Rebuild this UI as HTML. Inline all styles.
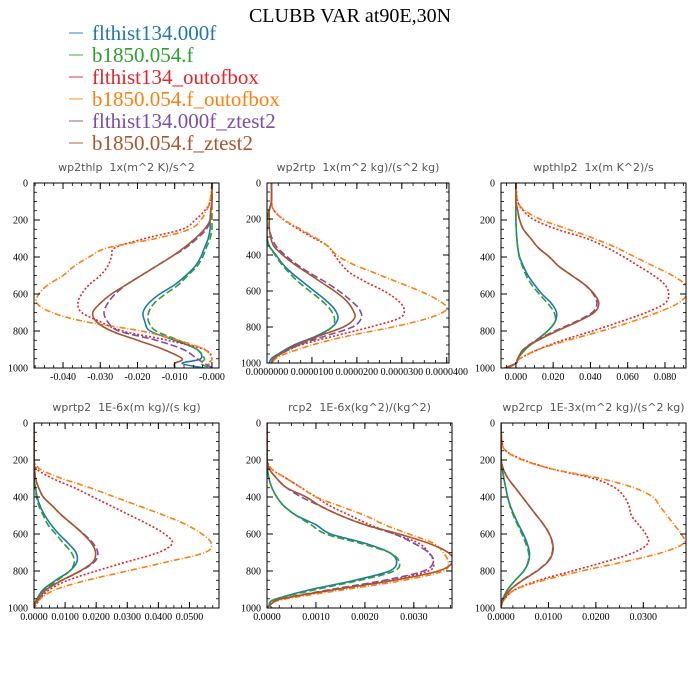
<!DOCTYPE html>
<html><head><meta charset="utf-8">
<style>
body{margin:0;background:#fff;}
svg{display:block;}
.tl{font-family:"Liberation Serif",serif;font-size:10px;fill:#000;}
.pt{font-family:"DejaVu Sans","Liberation Sans",sans-serif;font-size:11px;fill:#555;white-space:pre;}
.lg{font-family:"Liberation Serif",serif;font-size:21px;}
</style></head>
<body>
<svg id="chart" width="700" height="700" viewBox="0 0 700 700">
<text x="350" y="22" text-anchor="middle" style="font-family:'Liberation Serif',serif;font-size:20px">CLUBB VAR at90E,30N</text>
<g id="legend"></g>
<g id="panels"></g>
</svg>
<script>
const levels=[0,100,150,200,250,300,350,400,450,500,550,600,650,700,750,800,850,900,950,975,1000];
const seriesNames=["flthist134.000f","b1850.054.f","flthist134_outofbox","b1850.054.f_outofbox","flthist134.000f_ztest2","b1850.054.f_ztest2"];
const yTicks=[0,200,400,600,800,1000];

// panel 1 wp2thlp
const p1Blue=[0,0,-0.0003,-0.0005,-0.0005,-0.001,-0.002,-0.003,-0.0045,-0.007,-0.010,-0.014,-0.017,-0.0185,-0.018,-0.0166,-0.01,-0.004,-0.003,-0.008,-0.002];
const p1Green=[0,0,0,0,0,-0.0005,-0.0015,-0.0025,-0.004,-0.0065,-0.009,-0.0125,-0.0155,-0.017,-0.017,-0.015,-0.009,-0.004,-0.002,-0.003,-0.0005];
const p1Red=[0,-0.0005,-0.002,-0.0045,-0.008,-0.018,-0.026,-0.027,-0.028,-0.030,-0.033,-0.035,-0.036,-0.035,-0.030,-0.024,-0.012,-0.002,0,-0.001,0];
const p1Orange=[0,-0.0005,-0.0015,-0.003,-0.006,-0.015,-0.028,-0.033,-0.037,-0.040,-0.044,-0.0465,-0.047,-0.043,-0.034,-0.019,-0.009,-0.002,0,-0.001,0];
const p1Purple=[0,0,-0.0003,-0.0005,-0.0015,-0.004,-0.007,-0.011,-0.015,-0.019,-0.023,-0.026,-0.028,-0.029,-0.028,-0.025,-0.015,-0.0077,-0.004,-0.002,0];
const p1Brown=[0,0,-0.0003,-0.0005,-0.002,-0.0045,-0.0075,-0.011,-0.015,-0.019,-0.023,-0.027,-0.030,-0.032,-0.031,-0.027,-0.02,-0.013,-0.008,-0.010,-0.010];
const p1Ticks=[-0.04,-0.03,-0.02,-0.01,0];
const p1Labels=["-0.040","-0.030","-0.020","-0.010","-0.000"];

// panel 2 wp2rtp
const p2Blue=[0.1e-5,0.1e-5,0.05e-5,0,0,0,0.05e-5,0.2e-5,0.35e-5,0.55e-5,0.8e-5,1.05e-5,1.3e-5,1.5e-5,1.58e-5,1.45e-5,1.1e-5,0.6e-5,0.25e-5,0.1e-5,0.05e-5];
const p2Green=[0.1e-5,0.1e-5,0.05e-5,0,0,0,0.05e-5,0.18e-5,0.32e-5,0.5e-5,0.7e-5,0.95e-5,1.2e-5,1.4e-5,1.5e-5,1.45e-5,1.15e-5,0.7e-5,0.3e-5,0.15e-5,0.1e-5];
const p2Red=[0.1e-5,0.1e-5,0.15e-5,0.35e-5,0.65e-5,1.0e-5,1.35e-5,1.5e-5,1.65e-5,1.85e-5,2.2e-5,2.6e-5,2.9e-5,3.05e-5,2.95e-5,2.3e-5,1.5e-5,0.75e-5,0.3e-5,0.15e-5,0.1e-5];
const p2Orange=[0.1e-5,0.1e-5,0.15e-5,0.35e-5,0.7e-5,1.05e-5,1.35e-5,1.55e-5,1.9e-5,2.4e-5,2.9e-5,3.4e-5,3.8e-5,4.0e-5,3.6e-5,2.8e-5,1.8e-5,1.0e-5,0.4e-5,0.2e-5,0.1e-5];
const p2Purple=[0.1e-5,0.1e-5,0.05e-5,0.05e-5,0.05e-5,0.1e-5,0.2e-5,0.4e-5,0.65e-5,0.95e-5,1.3e-5,1.6e-5,1.85e-5,2.05e-5,2.1e-5,1.9e-5,1.3e-5,0.7e-5,0.3e-5,0.15e-5,0.1e-5];
const p2Brown=[0.1e-5,0.1e-5,0.05e-5,0.05e-5,0.05e-5,0.08e-5,0.15e-5,0.35e-5,0.6e-5,0.9e-5,1.2e-5,1.5e-5,1.75e-5,1.9e-5,1.95e-5,1.7e-5,1.15e-5,0.65e-5,0.3e-5,0.15e-5,0.1e-5];
const p2Ticks=[0,1e-5,2e-5,3e-5,4e-5];
const p2Labels=["0.0000000","0.0000100","0.0000200","0.0000300","0.0000400"];

// panel 3 wpthlp2
const p3Blue=[0,0,0,0,0.0002,0.0005,0.001,0.002,0.004,0.0065,0.01,0.014,0.019,0.0218,0.021,0.017,0.011,0.005,0.001,0,-0.006];
const p3Green=[0,0,0,0,0.0002,0.0005,0.001,0.0018,0.0035,0.0055,0.0085,0.0125,0.017,0.0205,0.021,0.017,0.011,0.005,0.001,0,-0.006];
const p3Red=[0,0.001,0.004,0.010,0.022,0.038,0.049,0.058,0.066,0.074,0.080,0.082,0.080,0.070,0.056,0.041,0.025,0.012,0.002,0,-0.005];
const p3Orange=[0,0.001,0.005,0.014,0.028,0.042,0.054,0.064,0.074,0.084,0.091,0.092,0.087,0.076,0.062,0.046,0.028,0.012,0.002,0,-0.004];
const p3Purple=[0,0,0.001,0.002,0.004,0.008,0.012,0.018,0.023,0.030,0.037,0.0415,0.0435,0.041,0.032,0.021,0.011,0.004,0.001,0,-0.006];
const p3Brown=[0,0,0.001,0.002,0.004,0.008,0.012,0.018,0.023,0.030,0.037,0.042,0.0445,0.042,0.033,0.022,0.012,0.004,0.001,0,-0.006];
const p3Ticks=[0,0.02,0.04,0.06,0.08];
const p3Labels=["0.000","0.020","0.040","0.060","0.080"];

// panel 4 wprtp2
const p4Blue=[0,0,0,0,0,0,0.0005,0.001,0.002,0.0035,0.0055,0.008,0.011,0.0135,0.0138,0.0115,0.007,0.003,0.001,0.0003,0];
const p4Green=[0,0,0,0,0,0,0.0004,0.0008,0.0016,0.003,0.0045,0.007,0.0095,0.012,0.013,0.0115,0.0075,0.0035,0.001,0.0003,0];
const p4Red=[0,0,0,0,0.001,0.006,0.013,0.019,0.025,0.031,0.037,0.042,0.0445,0.040,0.030,0.020,0.011,0.005,0.002,0.001,0];
const p4Orange=[0,0,0,0,0.002,0.009,0.018,0.026,0.034,0.042,0.049,0.054,0.057,0.055,0.043,0.030,0.017,0.007,0.002,0.001,0];
const p4Purple=[0,0,0,0,0.0002,0.0005,0.0015,0.003,0.006,0.009,0.0125,0.016,0.019,0.0205,0.0195,0.015,0.009,0.004,0.0015,0.0005,0];
const p4Brown=[0,0,0,0,0.0002,0.0005,0.0015,0.003,0.006,0.009,0.0125,0.0158,0.0185,0.0198,0.019,0.0148,0.009,0.004,0.0015,0.0005,0];
const p4Ticks=[0,0.01,0.02,0.03,0.04,0.05];
const p4Labels=["0.0000","0.0100","0.0200","0.0300","0.0400","0.0500"];

// panel 5 rcp2
const p5Blue=[0,0,0,0,0.00001,0.00004,0.0001,0.0002,0.00035,0.0006,0.001,0.0013,0.002,0.0025,0.00265,0.0025,0.0018,0.0009,0.0002,0.00005,0.0001];
const p5Green=[0,0,0,0,0.00001,0.00004,0.0001,0.0002,0.00035,0.0006,0.0009,0.0012,0.0019,0.0025,0.0027,0.0026,0.0019,0.001,0.0002,0.00005,0.0001];
const p5Red=[0,0,0,0,0.0001,0.0004,0.0007,0.001,0.0013,0.0017,0.0021,0.0026,0.0031,0.0033,0.0034,0.0033,0.0025,0.0014,0.0003,0.0001,0];
const p5Orange=[0,0,0,0,0.0001,0.0004,0.0007,0.001,0.0015,0.002,0.0024,0.0029,0.0034,0.0036,0.0037,0.0036,0.0028,0.0016,0.0004,0.0001,0];
const p5Purple=[0,0,0,0,0.00005,0.0002,0.0004,0.0007,0.0011,0.0015,0.002,0.0026,0.003,0.0033,0.0034,0.0032,0.0024,0.0013,0.0003,0.0001,0];
const p5Brown=[0,0,0,0,0.00005,0.0002,0.0004,0.0008,0.0011,0.0015,0.002,0.0027,0.0033,0.0037,0.0038,0.0035,0.0026,0.0014,0.0003,0.0001,0];
const p5Ticks=[0,0.001,0.002,0.003];
const p5Labels=["0.0000","0.0010","0.0020","0.0030"];

// panel 6 wp2rcp
const p6Blue=[0,0,0,0,0.0003,0.0006,0.001,0.0014,0.002,0.0028,0.0037,0.0047,0.0055,0.006,0.0058,0.0048,0.003,0.0014,0.0004,0.0001,0];
const p6Green=[0,0,0,0,0.0003,0.0006,0.001,0.0014,0.0019,0.0026,0.0035,0.0044,0.0052,0.0058,0.0057,0.0048,0.003,0.0014,0.0004,0.0001,0];
const p6Red=[0,0.0002,0.001,0.0048,0.011,0.0195,0.024,0.026,0.027,0.0275,0.029,0.0305,0.031,0.028,0.022,0.015,0.008,0.003,0.0008,0.0002,0];
const p6Orange=[0,0.0002,0.001,0.0045,0.011,0.021,0.028,0.032,0.0335,0.035,0.0365,0.038,0.0385,0.034,0.026,0.017,0.009,0.003,0.0008,0.0002,0];
const p6Purple=[0,0,0,0,0.0005,0.0015,0.003,0.0045,0.006,0.0075,0.009,0.0102,0.0108,0.0108,0.0098,0.0075,0.0045,0.002,0.0006,0.0002,0];
const p6Brown=[0,0,0,0,0.0005,0.0015,0.003,0.0045,0.006,0.0075,0.009,0.0102,0.0109,0.0109,0.0099,0.0076,0.0046,0.002,0.0006,0.0002,0];
const p6Ticks=[0,0.01,0.02,0.03];
const p6Labels=["0.0000","0.0100","0.0200","0.0300"];

const colors=["#1f77b4","#2ca02c","#e3242b","#ff7f0e","#7b4fa8","#a9562d"];
const dashes=["","7,3","2,2","6,2,1,2","7,3",""];
const NS="http://www.w3.org/2000/svg";
function mk(tag,attrs,parent){const e=document.createElementNS(NS,tag);for(const k in attrs)e.setAttribute(k,attrs[k]);parent.appendChild(e);return e;}

// legend
const lg=document.getElementById('legend');
seriesNames.forEach((n,i)=>{
  const y=33+i*22;
  const l=mk('line',{x1:69,x2:83,y1:y,y2:y,stroke:colors[i],'stroke-width':1.5,'stroke-opacity':0.6},lg);
  
  
  const t=mk('text',{x:92,y:y+7,fill:colors[i],class:'lg'},lg);
  t.textContent=n;
  
  
});

const panels=[
 {name:'wp2thlp',title:'wp2thlp  1x(m^2 K)/s^2',x0:34,x1:219,y0:183,y1:368,xmin:-0.0478,xmax:0.0019,ticks:p1Ticks,labels:p1Labels,minor:0.0025,s:[p1Blue,p1Green,p1Red,p1Orange,p1Purple,p1Brown]},
 {name:'wp2rtp',title:'wp2rtp  1x(m^2 kg)/(s^2 kg)',x0:267,x1:449,y0:183,y1:363,xmin:0,xmax:4.05e-5,ticks:p2Ticks,labels:p2Labels,minor:0.25e-5,s:[p2Blue,p2Green,p2Red,p2Orange,p2Purple,p2Brown]},
 {name:'wpthlp2',title:'wpthlp2  1x(m K^2)/s',x0:501,x1:686,y0:183,y1:368,xmin:-0.008,xmax:0.0913,ticks:p3Ticks,labels:p3Labels,minor:0.005,s:[p3Blue,p3Green,p3Red,p3Orange,p3Purple,p3Brown]},
 {name:'wprtp2',title:'wprtp2  1E-6x(m kg)/(s kg)',x0:34,x1:219,y0:423,y1:608,xmin:0,xmax:0.0595,ticks:p4Ticks,labels:p4Labels,minor:0.0025,s:[p4Blue,p4Green,p4Red,p4Orange,p4Purple,p4Brown]},
 {name:'rcp2',title:'rcp2  1E-6x(kg^2)/(kg^2)',x0:267,x1:452,y0:423,y1:608,xmin:0,xmax:0.00378,ticks:p5Ticks,labels:p5Labels,minor:0.00025,s:[p5Blue,p5Green,p5Red,p5Orange,p5Purple,p5Brown]},
 {name:'wp2rcp',title:'wp2rcp  1E-3x(m^2 kg)/(s^2 kg)',x0:501,x1:686,y0:423,y1:608,xmin:0,xmax:0.039,ticks:p6Ticks,labels:p6Labels,minor:0.0025,s:[p6Blue,p6Green,p6Red,p6Orange,p6Purple,p6Brown]}
];

const root=document.getElementById('panels');
panels.forEach(P=>{
  const g=mk('g',{},root);
  
  
  const X=v=>P.x0+(v-P.xmin)/(P.xmax-P.xmin)*(P.x1-P.x0);
  const Y=p=>P.y0+p/1000*(P.y1-P.y0);
  const t=mk('text',{x:(P.x0+P.x1)/2,y:P.y0-12,'text-anchor':'middle',class:'pt'},g);
  t.textContent=P.title;
  
  
  const cp=mk('clipPath',{id:'c'+P.name},g);
  mk('rect',{x:P.x0,y:P.y0,width:P.x1-P.x0,height:P.y1-P.y0},cp);
  const lines=mk('g',{'clip-path':'url(#c'+P.name+')'},g);
  P.s.forEach((arr,si)=>{
    const pts=arr.map((v,i)=>[X(v),Y(levels[i])]);
    let d='M'+pts[0][0].toFixed(2)+','+pts[0][1].toFixed(2);
    for(let i=0;i<pts.length-1;i++){
      const p0=pts[Math.max(0,i-1)],p1=pts[i],p2=pts[i+1],p3=pts[Math.min(pts.length-1,i+2)];
      const c1=[p1[0]+(p2[0]-p0[0])/6,p1[1]+(p2[1]-p0[1])/6];
      const c2=[p2[0]-(p3[0]-p1[0])/6,p2[1]-(p3[1]-p1[1])/6];
      d+=' C'+c1[0].toFixed(2)+','+c1[1].toFixed(2)+' '+c2[0].toFixed(2)+','+c2[1].toFixed(2)+' '+p2[0].toFixed(2)+','+p2[1].toFixed(2);
    }
    const path=mk('path',{d:d,fill:'none',stroke:colors[si],'stroke-width':1.6,'stroke-dasharray':dashes[si]},lines);
    
    
  });
  for(let v=Math.ceil(P.xmin/P.minor)*P.minor;v<=P.xmax+1e-12;v+=P.minor){
    const x=X(v);
    mk('line',{x1:x,x2:x,y1:P.y1,y2:P.y1-3,stroke:'#000','stroke-width':0.8},g);
    mk('line',{x1:x,x2:x,y1:P.y0,y2:P.y0+3,stroke:'#000','stroke-width':0.8},g);
  }
  for(let p=0;p<=1000;p+=50){
    const y=Y(p);
    mk('line',{x1:P.x0,x2:P.x0+3,y1:y,y2:y,stroke:'#000','stroke-width':0.8},g);
    mk('line',{x1:P.x1,x2:P.x1-3,y1:y,y2:y,stroke:'#000','stroke-width':0.8},g);
  }
  P.ticks.forEach((v,i)=>{
    const x=X(v);
    mk('line',{x1:x,x2:x,y1:P.y1,y2:P.y1-6,stroke:'#000','stroke-width':1},g);
    mk('line',{x1:x,x2:x,y1:P.y0,y2:P.y0+6,stroke:'#000','stroke-width':1},g);
    const tt=mk('text',{x:x,y:P.y1+12,'text-anchor':'middle',class:'tl'},g);
    tt.textContent=P.labels[i];
    
    
  });
  yTicks.forEach(p=>{
    const y=Y(p);
    mk('line',{x1:P.x0,x2:P.x0+6,y1:y,y2:y,stroke:'#000','stroke-width':1},g);
    mk('line',{x1:P.x1,x2:P.x1-6,y1:y,y2:y,stroke:'#000','stroke-width':1},g);
    const tt=mk('text',{x:P.x0-6,y:y+3.5,'text-anchor':'end',class:'tl'},g);
    tt.textContent=p;
    
    
  });
  const box=mk('rect',{x:P.x0,y:P.y0,width:P.x1-P.x0,height:P.y1-P.y0,fill:'none',stroke:'#000','stroke-width':1},g);
  
  
});
</script>
</body></html>
